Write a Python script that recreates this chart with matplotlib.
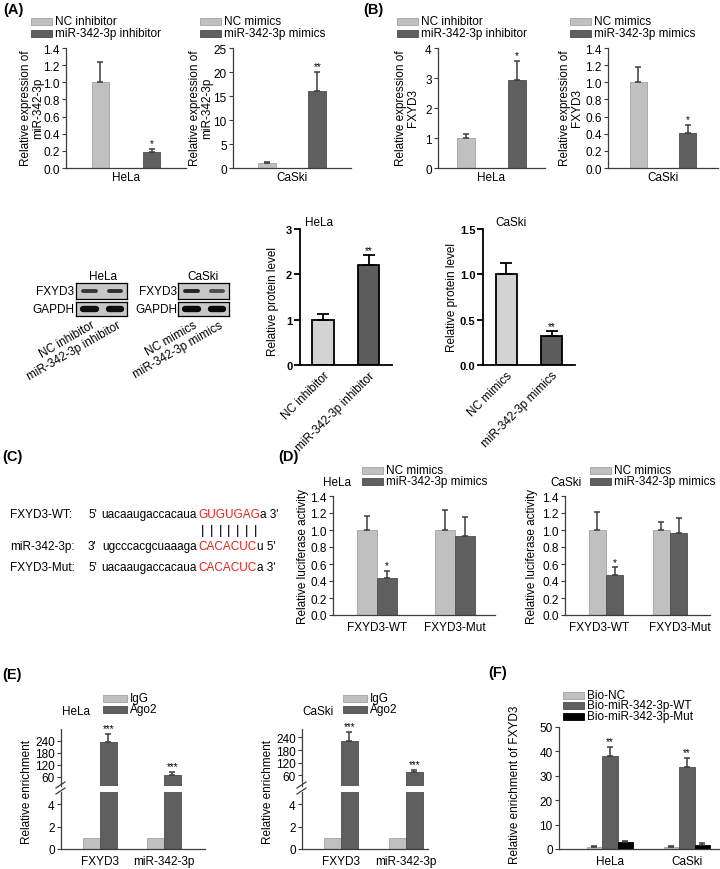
import matplotlib
matplotlib.use('Agg')
import matplotlib.pyplot as plt
import numpy as np
from matplotlib.patches import Rectangle
from matplotlib.lines import Line2D

plt.rcParams['font.family'] = ['Liberation Sans', 'DejaVu Sans']
plt.rcParams['font.size'] = 8.5

W, H = 720, 870

# colours
LIGHT, LIGHT_EDGE = '#c0c0c0', '#a3a3a3'
DARK, DARK_EDGE = '#5f5f5f', '#4d4d4d'
AXC = '#3c3c3c'
RED = '#e3231f'

# ---------------- data ----------------
# (A) miR-342-3p expression
a_hela_labels = ['NC inhibitor', 'miR-342-3p inhibitor']
a_hela_vals = [1.0, 0.19]
a_hela_errs = [0.24, 0.035]
a_hela_stars = ['', '*']
a_caski_labels = ['NC mimics', 'miR-342-3p mimics']
a_caski_vals = [1.0, 16.0]
a_caski_errs = [0.15, 4.0]
a_caski_stars = ['', '**']

# (B) FXYD3 expression
b_hela_vals = [1.0, 2.92]
b_hela_errs = [0.15, 0.65]
b_hela_stars = ['', '*']
b_caski_vals = [1.0, 0.41]
b_caski_errs = [0.18, 0.09]
b_caski_stars = ['', '*']

# western blot quantification
wb_hela_vals = [1.0, 2.2]
wb_hela_errs = [0.12, 0.22]
wb_hela_stars = ['', '**']
wb_caski_vals = [1.0, 0.32]
wb_caski_errs = [0.13, 0.05]
wb_caski_stars = ['', '**']
# band darkness per lane (0 = none, 1 = black)
band_hela_fxyd3 = [0.72, 0.76]
band_hela_gapdh = [0.92, 0.92]
band_caski_fxyd3 = [0.82, 0.62]
band_caski_gapdh = [0.95, 0.95]

# (C) binding sites
seq_names = ['FXYD3-WT:', 'miR-342-3p:', 'FXYD3-Mut:']
seq_ends5 = ["5'", "3'", "5'"]
seq_black = ['uacaaugaccacaua', 'ugcccacgcuaaaga', 'uacaaugaccacaua']
seq_red = ['GUGUGAG', 'CACACUC', 'CACACUC']
seq_tail = ["a 3'", "u 5'", "a 3'"]

# (D) luciferase
d_groups = ['FXYD3-WT', 'FXYD3-Mut']
d_series = ['NC mimics', 'miR-342-3p mimics']
d_hela_nc = [1.0, 1.0]
d_hela_nc_err = [0.17, 0.24]
d_hela_mim = [0.44, 0.93]
d_hela_mim_err = [0.08, 0.22]
d_caski_nc = [1.0, 1.0]
d_caski_nc_err = [0.21, 0.10]
d_caski_mim = [0.47, 0.97]
d_caski_mim_err = [0.09, 0.17]
d_stars = ['*', '']

# (E) RIP
e_groups = ['FXYD3', 'miR-342-3p']
e_series = ['IgG', 'Ago2']
e_hela_igg = [1.0, 1.0]
e_hela_ago2 = [235, 70]
e_hela_ago2_err = [42, 14]
e_caski_igg = [1.0, 1.0]
e_caski_ago2 = [222, 78]
e_caski_ago2_err = [43, 7]
e_stars = ['***', '***']

# (F) pull-down
f_groups = ['HeLa', 'CaSki']
f_series = ['Bio-NC', 'Bio-miR-342-3p-WT', 'Bio-miR-342-3p-Mut']
f_nc = [1.0, 1.0]
f_nc_err = [0.2, 0.2]
f_wt = [38.2, 33.5]
f_wt_err = [3.7, 4.0]
f_mut = [2.7, 1.6]
f_mut_err = [0.7, 0.7]
f_stars = ['**', '**']

fig = plt.figure(figsize=(7.2, 8.7), dpi=100)


def px_axes(x0, y0, x1, y1):
    return fig.add_axes([x0 / W, 1 - y1 / H, (x1 - x0) / W, (y1 - y0) / H])


def ftext(x, y, s, **kw):
    kw.setdefault('va', 'center')
    return fig.text(x / W, 1 - y / H, s, **kw)


def legend_box(x, y, labels, faces, edges, dy, pw=21):
    for i, (lab, fc, ec) in enumerate(zip(labels, faces, edges)):
        yy = y + i * dy
        fig.patches.append(Rectangle((x / W, 1 - (yy + 3.5) / H), pw / W, 7 / H,
                                     transform=fig.transFigure, facecolor=fc,
                                     edgecolor=ec, lw=0.6))
        ftext(x + pw + 3, yy, lab)


def excel_axes(box, xlim, ylim, yticks, fmt, pad=2):
    ax = px_axes(*box)
    ax.set_xlim(xlim)
    ax.set_ylim(ylim)
    ax.patch.set_alpha(0)
    ax.spines[['top', 'right']].set_visible(False)
    for s in ('left', 'bottom'):
        ax.spines[s].set_color(AXC)
        ax.spines[s].set_linewidth(0.9)
    ax.set_yticks(yticks, [fmt.format(t) for t in yticks])
    ax.tick_params(axis='y', direction='out', length=3, width=0.8, color=AXC,
                   pad=1.5, labelsize=8.5)
    ax.tick_params(axis='x', length=0, pad=pad, labelsize=8.5)
    return ax


def bars(ax, x, vals, errs, face, edge, width, stars=None, cap=2.5, lw=0.6,
         ecol=AXC, elw=1.1, sfs=7):
    x = np.asarray(x, float)
    v = np.asarray(vals, float)
    ax.bar(x, v, width, color=face, edgecolor=edge, linewidth=lw)
    if errs is None:
        return
    e = np.asarray(errs, float)
    m = e > 0
    ax.errorbar(x[m], v[m], yerr=[np.zeros(m.sum()), e[m]], fmt='none',
                ecolor=ecol, elinewidth=elw, capsize=cap, capthick=elw)
    if stars:
        for xi, vi, ei, s in zip(x, v, e, stars):
            if s:
                ax.annotate(s, (xi, vi + ei), xytext=(0, 0.5),
                            textcoords='offset points', ha='center',
                            va='bottom', fontsize=sfs)


# ---------------- (A) and (B) ----------------
top_row = [
    ((66, 49, 186, 169), 0.588, (0, 1.4), np.round(np.arange(0, 1.41, 0.2), 1), '{:.1f}',
     a_hela_vals, a_hela_errs, a_hela_stars, 'HeLa'),
    ((233, 49, 351, 169), 0.584, (0, 25), [0, 5, 10, 15, 20, 25], '{:g}',
     a_caski_vals, a_caski_errs, a_caski_stars, 'CaSki'),
    ((438, 49, 545, 169), 0.524, (0, 4), [0, 1, 2, 3, 4], '{:g}',
     b_hela_vals, b_hela_errs, b_hela_stars, 'HeLa'),
    ((608, 49, 718, 169), 0.555, (0, 1.4), np.round(np.arange(0, 1.41, 0.2), 1), '{:.1f}',
     b_caski_vals, b_caski_errs, b_caski_stars, 'CaSki'),
]
for box, half, ylim, yt, fmt, vals, errs, stars, cat in top_row:
    ax = excel_axes(box, (-half, half), ylim, yt, fmt)
    bars(ax, [-0.25, 0.25], vals, errs, [LIGHT, DARK], [LIGHT_EDGE, DARK_EDGE],
         0.176, stars)
    ax.set_xticks([0], [cat])

legend_box(31, 22, a_hela_labels, [LIGHT, DARK], [LIGHT_EDGE, DARK_EDGE], 12)
legend_box(200, 22, a_caski_labels, [LIGHT, DARK], [LIGHT_EDGE, DARK_EDGE], 12)
legend_box(397, 22, a_hela_labels, [LIGHT, DARK], [LIGHT_EDGE, DARK_EDGE], 12)
legend_box(570, 22, a_caski_labels, [LIGHT, DARK], [LIGHT_EDGE, DARK_EDGE], 12)

for xc, lab in [(32, 'Relative expression of\nmiR-342-3p'),
                (201, 'Relative expression of\nmiR-342-3p'),
                (407, 'Relative expression of\nFXYD3'),
                (571, 'Relative expression of\nFXYD3')]:
    ftext(xc, 108, lab, rotation=90, ha='center', multialignment='center',
          linespacing=0.95)

# ---------------- western blot ----------------
def blot(box, darkness, lw):
    ax = px_axes(*box)
    ax.set_facecolor('#c8c8c8')
    ax.set_xlim(0, len(darkness))
    ax.set_ylim(0, 1)
    ax.set_xticks([])
    ax.set_yticks([])
    for s in ax.spines.values():
        s.set_linewidth(0.9)
        s.set_color('black')
    for i, d in enumerate(darkness):
        g = 0.78 * (1 - d)
        ax.plot([i + 0.28, i + 0.78], [0.5, 0.5], color=(g, g, g), lw=lw,
                solid_capstyle='round')


blot((76, 284, 127, 300), band_hela_fxyd3, 2.8)
blot((76, 303, 127, 317), band_hela_gapdh, 4.6)
blot((178, 284, 229, 300), band_caski_fxyd3, 2.8)
blot((178, 303, 229, 317), band_caski_gapdh, 4.6)
ftext(103, 277, 'HeLa', ha='center')
ftext(203, 277, 'CaSki', ha='center')
ftext(74, 292, 'FXYD3', ha='right')
ftext(74, 310, 'GAPDH', ha='right')
ftext(177, 292, 'FXYD3', ha='right')
ftext(177, 310, 'GAPDH', ha='right')
for xa, lab in [(94, 'NC inhibitor'), (120, 'miR-342-3p inhibitor'),
                (196, 'NC mimics'), (222, 'miR-342-3p mimics')]:
    ftext(xa, 325, lab, ha='right', va='center', rotation=30,
          rotation_mode='anchor')


def prism_axes(box, xlim, ylim, yticks, fmt, labels):
    ax = px_axes(*box)
    ax.set_xlim(xlim)
    ax.set_ylim(ylim)
    ax.spines[['top', 'right']].set_visible(False)
    for s in ('left', 'bottom'):
        ax.spines[s].set_linewidth(1.3)
    ax.set_yticks(yticks, [fmt.format(t) for t in yticks])
    for t in ax.get_yticklabels():
        t.set_fontweight('bold')
    ax.tick_params(axis='y', direction='out', length=4, width=1.3, pad=1.5,
                   labelsize=8)
    ax.tick_params(axis='x', length=0, pad=3, labelsize=8.5)
    ax.set_xticks([0, 1], labels, rotation=45, ha='right',
                  rotation_mode='anchor')
    return ax


ax = prism_axes((300, 230, 392, 366), (-0.505, 1.516), (0, 3), [0, 1, 2, 3],
                '{:g}', a_hela_labels)
bars(ax, [0, 1], wb_hela_vals, wb_hela_errs, ['#d3d3d3', '#5c5c5c'], 'black',
     0.48, wb_hela_stars, cap=4, lw=1.3, ecol='black', elw=1.3)
ax = prism_axes((483, 230, 575, 366), (-0.52, 1.52), (0, 1.5),
                [0, 0.5, 1.0, 1.5], '{:.1f}', a_caski_labels)
bars(ax, [0, 1], wb_caski_vals, wb_caski_errs, ['#d3d3d3', '#5c5c5c'], 'black',
     0.48, wb_caski_stars, cap=4, lw=1.3, ecol='black', elw=1.3)
ftext(305, 223, 'HeLa')
ftext(495, 223, 'CaSki')
ftext(273, 302, 'Relative protein level', rotation=90, ha='center')
ftext(452, 298, 'Relative protein level', rotation=90, ha='center')

# ---------------- (C) ----------------
renderer = fig.canvas.get_renderer()
seq_y = [515, 547, 568]
wt_box = None
for y, name, e5, blk, red, tail in zip(seq_y, seq_names, seq_ends5, seq_black,
                                       seq_red, seq_tail):
    ftext(10, y, name)
    ftext(88, y, e5)
    ftext(197, y, blk, ha='right')
    t = ftext(198, y, red, color=RED)
    bb = t.get_window_extent(renderer)
    ftext(bb.x1 + 0.5, y, tail)
    if wt_box is None:
        wt_box = bb
for i in range(7):
    cx = wt_box.x0 + (i + 0.5) * wt_box.width / 7
    ftext(cx, 531, '|', ha='center', fontsize=9.5)

# ---------------- (D) ----------------
xd = np.arange(len(d_groups))
d_ticks = np.round(np.arange(0, 1.41, 0.2), 1)
ax = excel_axes((333, 497, 495, 616), (-0.564, 1.51), (0, 1.4), d_ticks, '{:.1f}', pad=4)
bars(ax, xd - 0.128, d_hela_nc, d_hela_nc_err, LIGHT, LIGHT_EDGE, 0.256)
bars(ax, xd + 0.128, d_hela_mim, d_hela_mim_err, DARK, DARK_EDGE, 0.256, d_stars)
ax.set_xticks(xd, d_groups)
ax = excel_axes((565, 497, 710, 616), (-0.64, 1.625), (0, 1.4), d_ticks, '{:.1f}', pad=4)
bars(ax, xd - 0.135, d_caski_nc, d_caski_nc_err, LIGHT, LIGHT_EDGE, 0.27)
bars(ax, xd + 0.135, d_caski_mim, d_caski_mim_err, DARK, DARK_EDGE, 0.27, d_stars)
# category labels sit slightly apart from the bar pairs in the original
ax.set_xticks(xd + np.array([-0.11, 0.16]), d_groups)
legend_box(362, 471, d_series, [LIGHT, DARK], [LIGHT_EDGE, DARK_EDGE], 11)
legend_box(590, 471, d_series, [LIGHT, DARK], [LIGHT_EDGE, DARK_EDGE], 11)
ftext(323, 483, 'HeLa')
ftext(550, 483, 'CaSki')
ftext(303, 556, 'Relative luciferase activity', rotation=90, ha='center')
ftext(532, 556, 'Relative luciferase activity', rotation=90, ha='center')

# ---------------- (E) ----------------
xe = np.arange(len(e_groups))


def rip_chart(x0, x1, xlim, up_ylim, igg, ago, ago_err):
    top = excel_axes((x0, 730, x1, 787), xlim, up_ylim, [60, 120, 180, 240], '{:g}')
    top.spines['bottom'].set_visible(False)
    top.set_xticks([])
    low = excel_axes((x0, 793, x1, 850), xlim, (0, 5.1), [0, 2, 4], '{:g}', pad=4)
    for a in (top, low):
        bars(a, xe - 0.13, igg, None, LIGHT, LIGHT_EDGE, 0.26)
    bars(top, xe + 0.13, ago, ago_err, DARK, DARK_EDGE, 0.26, e_stars)
    bars(low, xe + 0.13, ago, None, DARK, DARK_EDGE, 0.26)
    low.set_xticks(xe, e_groups)
    for dy in (0, 6):
        fig.add_artist(Line2D([(x0 - 5) / W, (x0 + 4) / W],
                              [1 - (789 + dy) / H, 1 - (783 + dy) / H],
                              color=AXC, lw=0.9))


rip_chart(61, 205, (-0.61, 1.64), (15, 300), e_hela_igg, e_hela_ago2, e_hela_ago2_err)
rip_chart(302, 428, (-0.6, 1.34), (10, 280), e_caski_igg, e_caski_ago2, e_caski_ago2_err)
legend_box(103, 699, e_series, [LIGHT, DARK], [LIGHT_EDGE, DARK_EDGE], 11.5, pw=24)
legend_box(343, 699, e_series, [LIGHT, DARK], [LIGHT_EDGE, DARK_EDGE], 11.5, pw=24)
ftext(62, 712, 'HeLa')
ftext(302, 712, 'CaSki')
ftext(27, 792, 'Relative enrichment', rotation=90, ha='center')
ftext(268, 792, 'Relative enrichment', rotation=90, ha='center')

# ---------------- (F) ----------------
xf = np.arange(len(f_groups))
ax = excel_axes((559, 728, 720, 850), (-0.66, 1.43), (0, 50),
                [0, 10, 20, 30, 40, 50], '{:g}', pad=4)
bars(ax, xf - 0.2, f_nc, f_nc_err, LIGHT, LIGHT_EDGE, 0.2)
bars(ax, xf, f_wt, f_wt_err, DARK, DARK_EDGE, 0.2, f_stars)
bars(ax, xf + 0.2, f_mut, f_mut_err, 'black', 'black', 0.2)
ax.set_xticks(xf, f_groups)
legend_box(563, 696, f_series, [LIGHT, DARK, 'black'],
           [LIGHT_EDGE, DARK_EDGE, 'black'], 10.5)
ftext(515, 785, 'Relative enrichment of FXYD3', rotation=90, ha='center')

# panel letters
for x, y, s in [(3, 10, '(A)'), (363, 10, '(B)'), (2, 457, '(C)'),
                (278, 457, '(D)'), (2, 675, '(E)'), (488, 673, '(F)')]:
    ftext(x, y, s, fontweight='bold', fontsize=10.5)

fig.savefig('out.png', dpi=100)
